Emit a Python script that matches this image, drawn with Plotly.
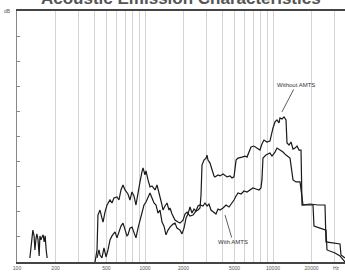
import plotly.graph_objects as go

# Low-frequency burst
burst_freq = [126, 129, 131, 133, 136, 138, 141, 143, 146, 149, 151, 154, 157, 160, 163, 166, 169, 172]
burst_vals = [1.6, 6.8, 12.0, 12.7, 10.4, 4.8, 9.6, 11.2, 8.8, 2.4, 10.4, 8.8, 10.0, 10.8, 8.0, 10.4, 4.8, 1.6]

# Without AMTS (upper curve)
without_freq = [407, 422, 429, 445, 461, 470, 487, 505, 533, 552, 572, 604, 626, 649, 673, 698, 736, 763,
                791, 820, 850, 882, 914, 947, 965, 1000, 1018, 1056, 1094, 1134, 1197, 1241, 1287, 1310,
                1358, 1383, 1433, 1486, 1540, 1568, 1626, 1716, 1811, 1877, 1981, 2054, 2129, 2247, 2371,
                2503, 2595, 2690, 2739, 2788, 2890, 2996, 3051, 3106, 3220, 3336, 3458, 3521, 3717, 3855,
                4070, 4373, 4616, 4786, 4960, 5145, 5330, 5730, 6045, 6266, 6495, 6733, 7090, 7500, 7905,
                8198, 8498, 8964, 9464, 10000, 10366, 10746, 11140, 11343, 11759, 12190, 12637, 12866,
                13338, 13826, 14333, 14859, 15403, 15968, 16553, 16853, 19457, 22468, 25484, 25946, 29963,
                33378, 33985, 36521]
without_vals = [0, 4.8, 18.7, 20.7, 17.5, 15.9, 19.9, 22.7, 24.7, 23.5, 25.5, 25.9, 24.7, 28.7, 30.7, 28.7, 27.1, 24.7,
                27.9, 26.3, 22.7, 27.9, 31.9, 35.9, 37.5, 34.7, 36.3, 32.7, 29.9, 30.3, 28.7, 30.7, 27.9, 25.9,
                22.7, 20.7, 22.3, 23.5, 20.7, 21.5, 19.1, 16.7, 15.9, 15.5, 16.7, 19.1, 19.9, 18.3, 18.7,
                20.3, 20.7, 21.5, 26.7, 38.6, 40.6, 41.4, 42.6, 40.6, 39.4, 36.7, 34.3, 33.9, 34.7, 34.3,
                35.1, 33.9, 34.3, 33.5, 33.9, 40.6, 41.4, 41.8, 42.2, 41.8, 43.8, 45.8, 46.2, 45.4, 44.6,
                47.0, 48.6, 47.8, 48.2, 53.4, 55.8, 56.6, 55.4, 57.4, 57.0, 57.8, 56.6, 47.4,
                46.6, 47.8, 45.0, 45.4, 46.2, 44.6, 44.6, 22.7, 23.1, 22.7, 22.7, 8.0, 7.6,
                7.2, 2.8, 1.6]

# With AMTS (lower curve)
with_freq = [422, 437, 445, 461, 478, 496, 514, 533, 552, 583, 604, 626, 649, 673, 698, 723, 736, 763, 791,
             820, 850, 882, 914, 947, 982, 1018, 1056, 1094, 1134, 1176, 1219, 1264, 1310, 1358, 1408,
             1459, 1513, 1568, 1655, 1716, 1778, 1877, 1946, 2017, 2091, 2167, 2247, 2329, 2415, 2503,
             2595, 2690, 2839, 2943, 3051, 3162, 3278, 3398, 3585, 3717, 3855, 4070, 4296, 4534, 4786,
             4960, 5145, 5330, 5628, 5937, 6266, 6610, 6966, 7364, 7765, 8053, 8198, 8350, 8807, 9464,
             9820, 10366, 10746, 11343, 11973, 12637, 13580, 14333, 15128, 16258, 17159, 20535, 20908,
             23292, 25946, 26417, 30507, 33378, 36521]
with_vals = [1.6, 4.8, 2.8, 1.6, 5.6, 2.0, 4.8, 8.8, 10.4, 12.0, 9.6, 11.6, 14.3, 15.5, 12.7, 10.4, 10.8, 13.5, 13.9,
             12.0, 9.6, 13.5, 16.7, 19.9, 22.7, 23.9, 25.5, 27.5, 25.5, 23.5, 22.7, 19.5, 20.7, 15.9, 14.3,
             10.8, 12.7, 13.9, 15.1, 15.5, 13.5, 12.7, 11.2, 13.5, 17.5, 19.1, 21.9, 19.5, 21.1, 20.3,
             22.3, 22.7, 22.3, 23.5, 22.3, 23.1, 20.7, 19.9, 19.1, 21.1, 20.7, 21.5, 22.7, 21.9, 23.5,
             24.7, 26.3, 27.5, 27.1, 28.3, 27.9, 28.7, 29.5, 29.1, 28.7, 29.5, 32.7, 41.4, 42.6, 43.4,
             42.2, 43.8, 45.4, 44.6, 43.8, 42.6, 41.4, 32.7, 31.9, 31.9, 22.7, 22.7, 14.3,
             13.5, 12.7, 4.8, 3.6, 2.4, 0]

grid_freqs = [200, 300, 400, 500, 600, 700, 800, 900, 1000, 2000, 3000, 4000, 5000, 6000, 7000, 8000,
              9000, 10000, 20000, 30000]
labelled = {100: "100", 200: "200", 500: "500", 1000: "1000", 2000: "2000", 5000: "5000",
            10000: "10000", 20000: "20000"}
tick_vals = [100] + grid_freqs
tick_text = [labelled.get(v, "") for v in tick_vals]

line_style = dict(color="#1a1a1a", width=1.2)

fig = go.Figure()
fig.add_trace(go.Scatter(x=burst_freq, y=burst_vals, mode="lines", line=line_style, showlegend=False))
fig.add_trace(go.Scatter(x=without_freq, y=without_vals, mode="lines", line=line_style,
                         name="Without AMTS", showlegend=False))
fig.add_trace(go.Scatter(x=with_freq, y=with_vals, mode="lines", line=line_style,
                         name="With AMTS", showlegend=False))

fig.update_layout(
    width=345, height=273,
    margin=dict(l=17, r=0, t=11, b=11),
    paper_bgcolor="white", plot_bgcolor="white",
    font=dict(family="Liberation Sans, Arial, sans-serif", color="#333"),
    xaxis=dict(type="log", range=[2, 4.5625], tickvals=tick_vals, ticktext=tick_text, automargin=False,
               tickfont=dict(size=5, color="#555"), showgrid=True, gridcolor="#d4d4d4", gridwidth=1,
               showline=True, linecolor="#444", linewidth=1.5, mirror=True, ticks="", zeroline=False),
    yaxis=dict(range=[0, 100], dtick=10, showticklabels=False, showgrid=False, automargin=False,
               showline=True, linecolor="#888", linewidth=1.2, ticks="inside", ticklen=3,
               tickcolor="#888", zeroline=False),
    annotations=[
        dict(text="<b>Acoustic Emission Characteristics</b>", xref="paper", yref="paper", x=0.5, y=1.05,
             xanchor="center", yanchor="middle", showarrow=False,
             font=dict(size=17, color="#555", family="Liberation Sans, Arial, sans-serif")),
        dict(text="dB", xref="paper", yref="paper", x=-0.012, y=1.0, xanchor="right", yanchor="middle",
             showarrow=False, font=dict(size=5, color="#555")),
        dict(text="Hz", xref="paper", yref="paper", x=0.975, y=-0.005, xanchor="center", yanchor="top",
             showarrow=False, font=dict(size=5, color="#555")),
        dict(text="Without AMTS", x=4.07, y=59.8, xref="x", yref="y", showarrow=True,
             ax=14, ay=-27, arrowhead=0, arrowwidth=0.8, arrowcolor="#333", standoff=0,
             font=dict(size=6, color="#333")),
        dict(text="With AMTS", x=3.625, y=18.7, xref="x", yref="y", showarrow=True,
             ax=8, ay=27, arrowhead=0, arrowwidth=0.8, arrowcolor="#333",
             font=dict(size=6, color="#333")),
    ],
)
fig.write_html("out.html", config={"displayModeBar": False},
               post_script="document.body.style.margin='0px';document.body.style.overflow='hidden';")
